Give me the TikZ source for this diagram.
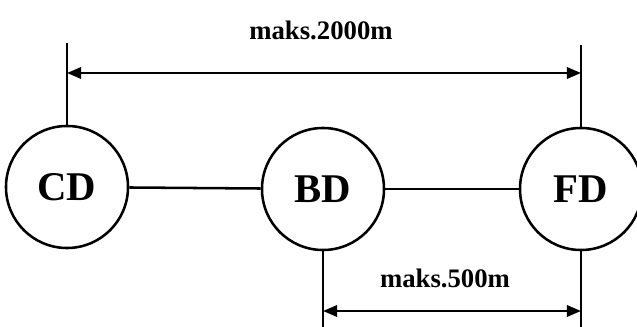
\documentclass[tikz,border=0pt]{standalone}
\usepackage{fontspec}
\setmainfont{Liberation Serif}
\usetikzlibrary{arrows.meta}

\begin{document}
\begin{tikzpicture}[x=0.025cm, y=-0.025cm, line width=1.8pt,
    station/.style={draw, circle, minimum size=3.05cm, inner sep=0pt,
        font=\fontsize{29}{29}\selectfont\bfseries},
    dimlabel/.style={font=\fontsize{19}{19}\selectfont\bfseries},
    dimline/.style={{Triangle[length=10pt, width=8pt]}-{Triangle[length=10pt, width=8pt]}}]
    \useasboundingbox (0,0) rectangle (637,327);

    % Stations
    \node[station] (CD) at (67,187) {CD};
    \node[station] (BD) at (323,189) {BD};
    \node[station] (FD) at (581,189) {FD};

    % Cable
    \draw (CD) -- (BD);
    \draw (BD) -- (FD);

    % Extension lines
    \coordinate (cdtop) at (67,43);
    \coordinate (fdtop) at (581,45);
    \coordinate (bdbot) at (323,327);
    \coordinate (fdbot) at (581,327);
    \draw (CD.north) -- (cdtop);
    \draw (FD.north) -- (fdtop);
    \draw (BD.south) -- (bdbot);
    \draw (FD.south) -- (fdbot);

    % Dimensions
    \coordinate (farL) at (67,73);
    \coordinate (farR) at (581,73);
    \coordinate (nearL) at (323,311);
    \coordinate (nearR) at (581,311);
    \draw[dimline] (farL) -- (farR);
    \draw[dimline] (nearL) -- (nearR);
    \node[dimlabel] (far) at (321,30) {maks.2000m};
    \node[dimlabel] (near) at (445,278) {maks.500m};
\end{tikzpicture}
\end{document}
